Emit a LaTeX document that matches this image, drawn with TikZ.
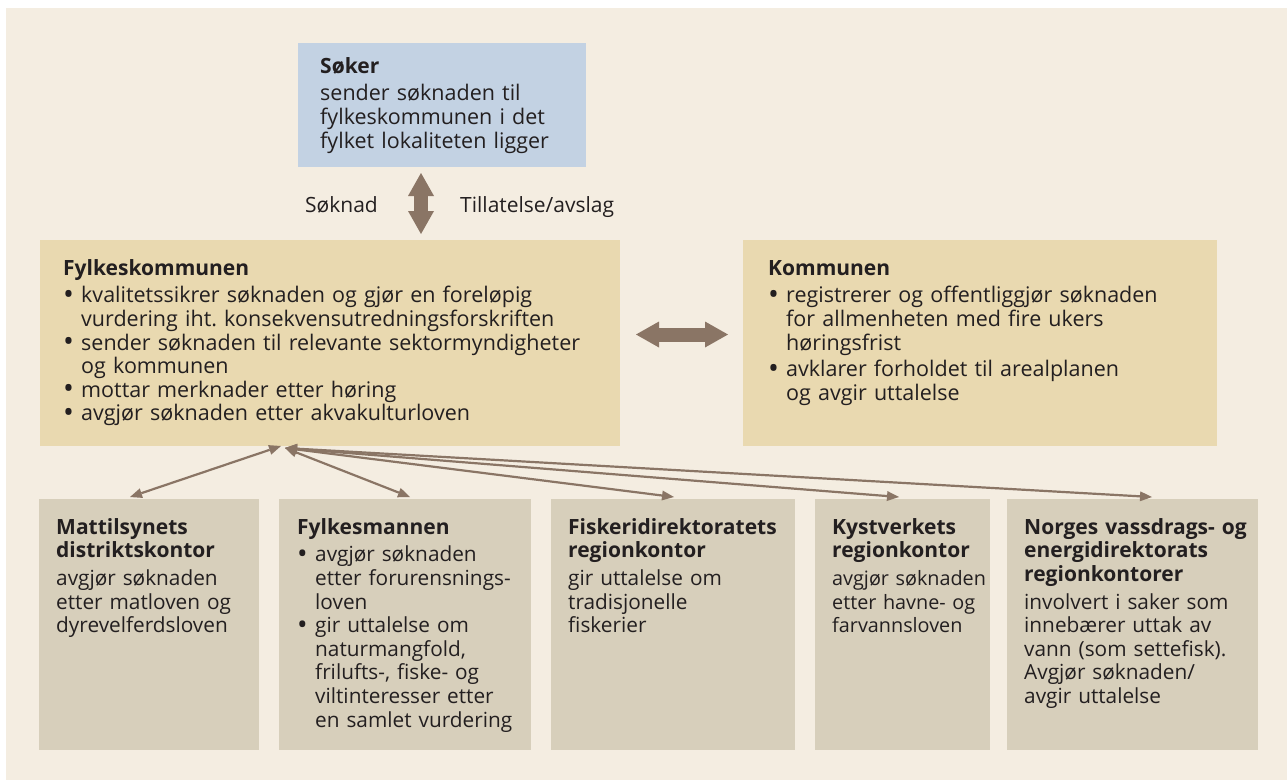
\documentclass[tikz,border=0pt]{standalone}
\usepackage{fontspec}
\usepackage{graphicx}
\setmainfont{Open Sans}
\usetikzlibrary{arrows.meta}
\definecolor{bg}{RGB}{244,237,225}
\definecolor{blu}{RGB}{195,210,227}
\definecolor{ylw}{RGB}{233,217,176}
\definecolor{gry}{RGB}{215,207,187}
\definecolor{brn}{RGB}{138,117,101}
\definecolor{txt}{RGB}{35,31,32}
\frenchspacing
\newcommand{\ttl}[1]{\noindent\rule{0pt}{18pt}{\fontsize{21}{23.6}\selectfont\textbf{#1}}\par\vspace{4pt}}
\newcommand{\bl}[1]{\par\hangindent=18pt\hangafter=1\noindent\makebox[18pt][l]{\smash{\raisebox{-1.6pt}{\scalebox{1.35}{\textbullet}}}}#1\par}
\newcommand{\pl}[1]{\par\noindent #1\par}
\begin{document}
\begin{tikzpicture}[x=1pt,y=-1pt,
  box/.style={anchor=north west, inner sep=0pt, outer sep=0pt, minimum width=#1},
  txtnode/.style={anchor=north west, inner sep=0pt, text width=#1, text=txt,
    font=\fontsize{20.8}{23.6}\selectfont,
    execute at begin node={\raggedright\frenchspacing\hyphenpenalty=10000\exhyphenpenalty=10000}},
  big/.style={font=\fontsize{21.5}{23.6}\selectfont},
  fat/.style={brn, line width=14pt,
    {Triangle[length=23pt,width=26pt,line width=0pt]}-{Triangle[length=23pt,width=26pt,line width=0pt]}},
  thin/.style={brn, line width=2.2pt,
    {Triangle[length=12pt,width=10pt,line width=0pt]}-{Triangle[length=12pt,width=10pt,line width=0pt]}},
  lbl/.style={inner sep=0pt, text=txt, font=\fontsize{21}{23.6}\selectfont}]
\useasboundingbox (0,0) rectangle (1287,780);
\fill[white] (0,0) rectangle (1287,780);
\fill[bg] (6,8) rectangle (1287,780);

% boxes
\node[box=288pt, minimum height=124pt, fill=blu] (soker) at (298,43) {};
\node[box=580pt, minimum height=206pt, fill=ylw] (fylk) at (40,240) {};
\node[box=474pt, minimum height=206pt, fill=ylw] (komm) at (743,240) {};
\node[box=220pt, minimum height=251pt, fill=gry] (b1) at (39,499) {};
\node[box=252pt, minimum height=251pt, fill=gry] (b2) at (279,499) {};
\node[box=244pt, minimum height=251pt, fill=gry] (b3) at (551,499) {};
\node[box=175pt, minimum height=251pt, fill=gry] (b4) at (815,499) {};
\node[box=251pt, minimum height=251pt, fill=gry] (b5) at (1007,499) {};

% texts
\node[txtnode=300pt, big] (tsoker) at ([shift={(22pt,-12pt)}]soker.north west) {%
\ttl{Søker}\pl{sender søknaden til\newline fylkeskommunen i det\newline fylket lokaliteten ligger}};

\node[txtnode=600pt, big] (tfylk) at ([shift={(23pt,-17pt)}]fylk.north west) {%
\ttl{Fylkeskommunen}%
\bl{kvalitetssikrer søknaden og gjør en foreløpig\newline vurdering iht. konsekvensutredningsforskriften}%
\bl{sender søknaden til relevante sektormyndigheter\newline og kommunen}%
\bl{mottar merknader etter høring}%
\bl{avgjør søknaden etter akvakulturloven}};

\node[txtnode=460pt, big] (tkomm) at ([shift={(25pt,-17pt)}]komm.north west) {%
\ttl{Kommunen}%
\bl{registrerer og offentliggjør søknaden\newline for allmenheten med fire ukers\newline høringsfrist}%
\vspace{3pt}%
\bl{avklarer forholdet til arealplanen\newline og avgir uttalelse}};

\node[txtnode=260pt] (tb1) at ([shift={(17pt,-17pt)}]b1.north west) {%
\ttl{Mattilsynets\newline distriktskontor}%
\pl{avgjør søknaden\newline etter matloven og\newline dyrevelferdsloven}};

\node[txtnode=260pt] (tb2) at ([shift={(18pt,-17pt)}]b2.north west) {%
\ttl{Fylkesmannen}%
\bl{avgjør søknaden\newline etter forurensnings-\newline loven}%
\bl{gir uttalelse om\newline naturmangfold,\newline frilufts-, fiske- og\newline viltinteresser etter\newline en samlet vurdering}};

\node[txtnode=260pt] (tb3) at ([shift={(17pt,-17pt)}]b3.north west) {%
\ttl{Fiskeridirektoratets\newline regionkontor}%
\pl{gir uttalelse om\newline tradisjonelle\newline fiskerier}};

\node[txtnode=260pt, font=\fontsize{19.8}{23.6}\selectfont] (tb4) at ([shift={(17pt,-17pt)}]b4.north west) {%
\ttl{Kystverkets\newline regionkontor}%
\pl{avgjør søknaden\newline etter havne- og\newline farvannsloven}};

\node[txtnode=260pt] (tb5) at ([shift={(17pt,-17pt)}]b5.north west) {%
\ttl{Norges vassdrags- og\newline energidirektorats\newline regionkontorer}%
\pl{involvert i saker som\newline innebærer uttak av\newline vann (som settefisk).\newline Avgjør søknaden/\newline avgir uttalelse}};

% labels
\node[lbl, anchor=base east] (lsok) at (378,212) {Søknad};
\node[lbl, anchor=base west] (ltil) at (460,212) {Tillatelse/avslag};

% fat arrows
\coordinate (va) at ([shift={(-21pt,-6pt)}]soker.south);
\coordinate (vb) at ([yshift=6pt]va |- fylk.north);
\draw[fat] (va) -- (vb);
\coordinate (ha) at ([shift={(16pt,8.5pt)}]fylk.east);
\coordinate (hb) at ([xshift=-15pt]ha -| komm.west);
\draw[fat] (ha) -- (hb);

% thin arrows
\coordinate (hub) at ([shift={(245pt,-2pt)}]fylk.south west);
\coordinate (hub1) at ([shift={(241pt,0pt)}]fylk.south west);
\draw[thin] (hub1) -- ([shift={(91pt,2pt)}]b1.north west);
\draw[thin] (hub) -- ([shift={(131pt,2pt)}]b2.north west);
\draw[thin] (hub) -- ([shift={(123pt,2pt)}]b3.north west);
\draw[thin] (hub) -- ([shift={(84pt,2pt)}]b4.north west);
\draw[thin] (hub) -- ([shift={(145pt,2pt)}]b5.north west);
\end{tikzpicture}
\end{document}
